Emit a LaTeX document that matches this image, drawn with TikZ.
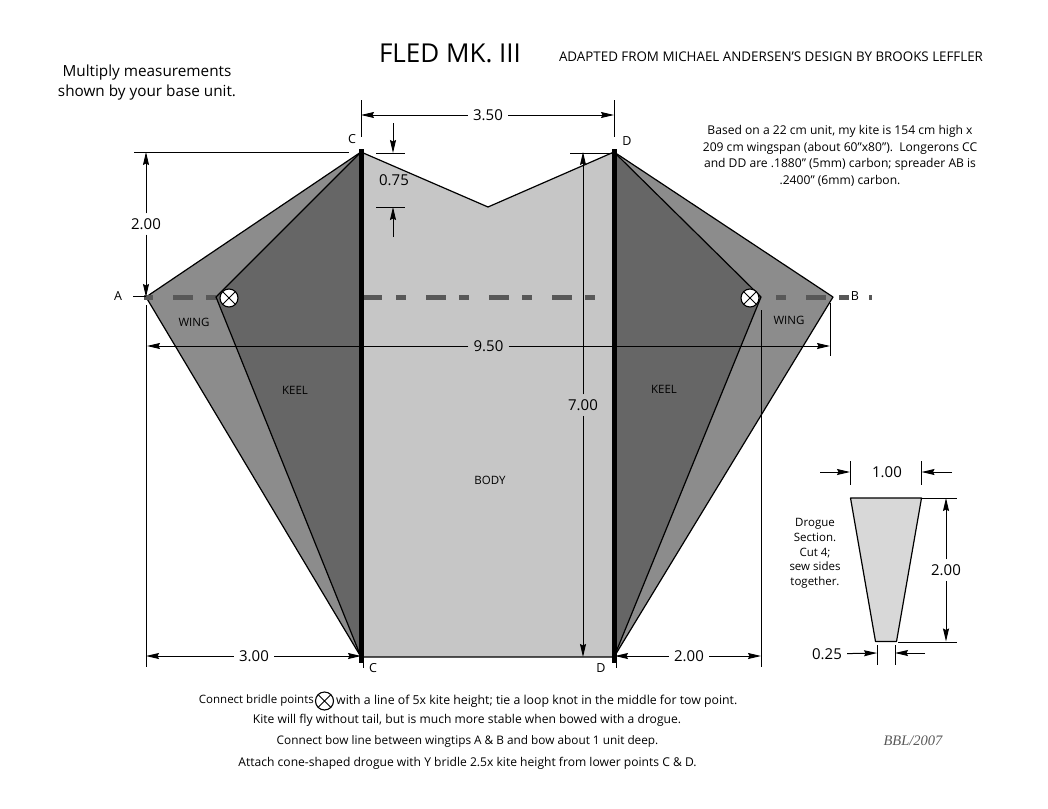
\documentclass[tikz,border=0pt]{standalone}
\usepackage{fontspec}
\setmainfont{Open Sans}
\newfontfamily\signfont{Liberation Serif}
\usetikzlibrary{arrows.meta}

\definecolor{wingfill}{HTML}{8C8C8C}
\definecolor{keelfill}{HTML}{666666}
\definecolor{bodyfill}{HTML}{C6C6C6}
\definecolor{drogfill}{HTML}{D8D8D8}
\definecolor{sparcol}{HTML}{585858}

\tikzset{
  panel/.style={draw=black,line width=1.2pt,line join=round},
  spar/.style={line width=5pt,black},
  gapdash/.style={line width=5pt,sparcol},
  dimline/.style={->,line width=1pt},
  extline/.style={line width=1pt},
  dimtext/.style={font=\fontsize{15}{18}\selectfont,inner sep=5pt},
  tag/.style={font=\fontsize{11.5}{14}\selectfont,inner sep=0pt},
  vertex/.style={font=\fontsize{12.5}{14}\selectfont,inner sep=0pt},
  textline/.style={inner sep=0pt,font=\fontsize{#1}{14}\selectfont},
  note/.style={font=\fontsize{12.1}{16.7}\selectfont,inner sep=0pt,align=center},
  bridle/.style={circle,draw=black,fill=white,line width=1.1pt,minimum size=18pt,inner sep=0pt,
    path picture={\draw[line width=1pt] (path picture bounding box.north west)--(path picture bounding box.south east)
      (path picture bounding box.north east)--(path picture bounding box.south west);}}
}

\begin{document}
\begin{tikzpicture}[x=1pt,y=-1pt,>={Stealth[length=13pt,width=6pt,inset=1.5pt]}]
  \useasboundingbox (0,0) rectangle (1048,808);

  \coordinate (A) at (146,297);
  \coordinate (B) at (833,297);
  \coordinate (Ctop) at (361,152);
  \coordinate (Dtop) at (614,152);
  \coordinate (Cbot) at (361,657);
  \coordinate (Dbot) at (614,657);
  \coordinate (notch) at (488,207);
  \coordinate (keelL) at (216,297);
  \coordinate (keelR) at (761,297);

  % kite panels
  \draw[panel,fill=bodyfill] (Ctop) -- (notch) -- (Dtop) -- (Dbot) -- (Cbot) -- cycle;
  \draw[panel,fill=wingfill] (Ctop) -- (A) -- (Cbot) -- cycle;
  \draw[panel,fill=wingfill] (Dtop) -- (B) -- (Dbot) -- cycle;
  \foreach \x/\y in {144/153,173/193,206/216,362/382,396/406,426/446,459/469,489/509,522/532,552/572,585/595,776/786,806/826,839/849,869/872}
    \draw[gapdash] (\x,297) -- (\y,297);
  \draw[panel,fill=keelfill] (Ctop) -- (keelL) -- (Cbot) -- cycle;
  \draw[panel,fill=keelfill] (Dtop) -- (keelR) -- (Dbot) -- cycle;
  \draw[spar] (361,149) -- (361,663);
  \draw[spar] (614,149) -- (614,663);

  \node[bridle] (bridleL) at (229,298) {};
  \node[bridle] (bridleR) at (750,298) {};

  % extension lines
  \foreach \ax/\ay/\bx/\by in {361/100/361/137, 614/100/614/137, 134/152/349/152, 376/153/405/153,
      376/207/405/207, 133/296/146/296, 146/305/146/667, 830/303/830/356, 363/657/363/668,
      616/657/616/668, 761/310/761/667, 570/153/612/153, 921/498/957/498, 898/642/957/642,
      850/461/850/485, 921.5/461/921.5/485, 877/645/877/665, 895/645/895/665}
    \draw[extline] (\ax,\ay) -- (\bx,\by);

  % dimensions
  \node[dimtext] (d350) at (488,115) {3.50};
  \draw[dimline] (d350) -- (d350 -| Ctop);
  \draw[dimline] (d350) -- (d350 -| Dtop);
  \node[dimtext] (d200a) at (146,224) {2.00};
  \draw[dimline] (d200a) -- (d200a |- Ctop);
  \draw[dimline] (d200a) -- (d200a |- A);
  \node[dimtext] (d075) at (394,180) {0.75};
  \coordinate (t075) at (393,123);
  \coordinate (b075) at (393,237);
  \draw[dimline] (t075) -- (393,153);
  \draw[dimline] (b075) -- (393,207);
  \node[dimtext] (d950) at (488.5,346) {9.50};
  \draw[dimline] (d950) -- (147,346);
  \draw[dimline] (d950) -- (830,346);
  \node[dimtext] (d700) at (583,405) {7.00};
  \draw[dimline] (d700) -- (d700 |- Dtop);
  \draw[dimline] (d700) -- (d700 |- Dbot);
  \node[dimtext] (d300) at (254,656) {3.00};
  \draw[dimline] (d300) -- (146,656);
  \draw[dimline] (d300) -- (361,656);
  \node[dimtext] (d200b) at (689,656) {2.00};
  \draw[dimline] (d200b) -- (615,656);
  \draw[dimline] (d200b) -- (761,656);

  % drogue
  \draw[panel,fill=drogfill] (850.5,498) coordinate (dl) -- (921.5,498) coordinate (dr)
    -- (896.5,641.5) coordinate (er) -- (875.5,641.5) coordinate (el) -- cycle;
  \node[dimtext] (d100) at (887,472) {1.00};
  \coordinate (t100l) at (820,472);
  \coordinate (t100r) at (952,472);
  \draw[dimline] (t100l) -- (850,472);
  \draw[dimline] (t100r) -- (921.5,472);
  \node[dimtext] (d200c) at (946,570) {2.00};
  \draw[dimline] (d200c) -- (d200c |- dr);
  \draw[dimline] (d200c) -- (d200c |- er);
  \node[dimtext] (d025) at (827,654) {0.25};
  \coordinate (t025) at (925,653);
  \draw[dimline] (d025) -- (877,653);
  \draw[dimline] (t025) -- (895,653);

  % labels
  \node[vertex] (lA) at (118,296) {A};
  \node[vertex] (lB) at (855,296) {B};
  \node[vertex] (lC) at (352,139) {C};
  \node[vertex] (lD) at (627,141) {D};
  \node[vertex] (lCb) at (373,668) {C};
  \node[vertex] (lDb) at (601,668) {D};
  \node[tag] (wingL) at (194,322) {WING};
  \node[tag] (wingR) at (789,320) {WING};
  \node[tag] (keelTL) at (295,390) {KEEL};
  \node[tag] (keelTR) at (664,389) {KEEL};
  \node[tag] (bodyT) at (490,480) {BODY};

  % texts
  \node[textline=26] (title) at (450,53) {FLED MK. III};
  \node[textline=13.35] (subtitle) at (771,57) {ADAPTED FROM MICHAEL ANDERSEN'S DESIGN BY BROOKS LEFFLER};
  \node[font=\fontsize{15.3}{20}\selectfont,inner sep=0pt,align=center] (mult) at (147,83) {Multiply measurements\\shown by your base unit.};
  \node[note] (based) at (840,156) {Based on a 22 cm unit, my kite is 154 cm high x\\209 cm wingspan (about 60"x80").\ \ Longerons CC\\and DD are .1880" (5mm) carbon; spreader AB is\\.2400" (6mm) carbon.};
  \node[font=\fontsize{11.5}{14.7}\selectfont,inner sep=0pt,align=center] (drogtext) at (815,553.5) {Drogue\\Section.\\Cut 4;\\sew sides\\together.};

  \node[bridle] (legend) at (324.5,701) {};
  \node[textline=11.5,anchor=east] (l1a) at (314,701) {Connect bridle points};
  \node[textline=12.3,anchor=west] (l1b) at (336,701) {with a line of 5x kite height; tie a loop knot in the middle for tow point.};
  \node[textline=12.1] (l2) at (467,720) {Kite will fly without tail, but is much more stable when bowed with a drogue.};
  \node[textline=11.8] (l3) at (467.5,741) {Connect bow line between wingtips A \& B and bow about 1 unit deep.};
  \node[textline=12.1] (l4) at (467.5,763) {Attach cone-shaped drogue with Y bridle 2.5x kite height from lower points C \& D.};
  \node[font=\signfont\itshape\fontsize{14.5}{16}\selectfont,text=black!65,inner sep=0pt] (sign) at (913,741) {BBL/2007};
\end{tikzpicture}
\end{document}
